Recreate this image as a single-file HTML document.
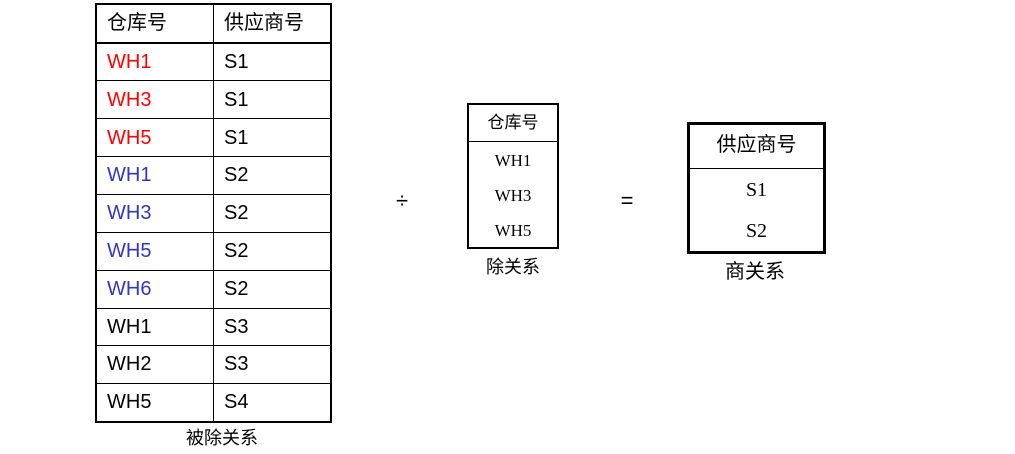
<!DOCTYPE html>
<html><head><meta charset="utf-8"><style>
body{margin:0;width:1015px;height:454px;background:#fff;position:relative;overflow:hidden;font-family:"Liberation Sans","Noto Sans CJK SC",sans-serif;}
.a{position:absolute;}
.h{position:absolute;height:1px;background:#000;}
.v{position:absolute;width:1px;background:#000;}
.t{position:absolute;font-size:20px;line-height:38px;height:38px;}
.c{position:absolute;text-align:center;}
.r{color:#f00}.b{color:#3333cc}
</style></head><body>
<div class="a" style="left:95px;top:3px;width:233px;height:416px;border:2px solid #000;"></div>
<div class="v" style="left:213px;top:4px;height:417px;"></div>
<div class="h" style="left:96px;top:42px;width:234px;height:2px;"></div>
<div class="h" style="left:96px;top:80px;width:234px;"></div>
<div class="h" style="left:96px;top:118px;width:234px;"></div>
<div class="h" style="left:96px;top:156px;width:234px;"></div>
<div class="h" style="left:96px;top:194px;width:234px;"></div>
<div class="h" style="left:96px;top:232px;width:234px;"></div>
<div class="h" style="left:96px;top:270px;width:234px;"></div>
<div class="h" style="left:96px;top:308px;width:234px;"></div>
<div class="h" style="left:96px;top:345px;width:234px;"></div>
<div class="h" style="left:96px;top:383px;width:234px;"></div>

<div class="t" style="left:107px;top:4px;">仓库号</div><div class="t" style="left:224px;top:4px;">供应商号</div>
<div class="t r" style="left:107px;top:43px;">WH1</div><div class="t" style="left:224px;top:43px;">S1</div>
<div class="t r" style="left:107px;top:81px;">WH3</div><div class="t" style="left:224px;top:81px;">S1</div>
<div class="t r" style="left:107px;top:119px;">WH5</div><div class="t" style="left:224px;top:119px;">S1</div>
<div class="t b" style="left:107px;top:156px;">WH1</div><div class="t" style="left:224px;top:156px;">S2</div>
<div class="t b" style="left:107px;top:194px;">WH3</div><div class="t" style="left:224px;top:194px;">S2</div>
<div class="t b" style="left:107px;top:232px;">WH5</div><div class="t" style="left:224px;top:232px;">S2</div>
<div class="t b" style="left:107px;top:270px;">WH6</div><div class="t" style="left:224px;top:270px;">S2</div>
<div class="t" style="left:107px;top:308px;">WH1</div><div class="t" style="left:224px;top:308px;">S3</div>
<div class="t" style="left:107px;top:345px;">WH2</div><div class="t" style="left:224px;top:345px;">S3</div>
<div class="t" style="left:107px;top:383px;">WH5</div><div class="t" style="left:224px;top:383px;">S4</div>
<div class="c" style="left:162px;top:426px;width:120px;font-size:18px;line-height:24px;">被除关系</div>

<div class="c" style="left:392px;top:186px;width:20px;font-size:22px;line-height:30px;">÷</div>
<div class="c" style="left:617px;top:186px;width:20px;font-size:22px;line-height:30px;">=</div>

<div class="a" style="left:467px;top:103px;width:88px;height:142px;border:2px solid #000;"></div>
<div class="h" style="left:469px;top:141px;width:88px;"></div>
<div class="c" style="left:469px;top:110px;width:88px;font-size:17px;line-height:26px;">仓库号</div>
<div class="c" style="left:469px;top:148px;width:88px;font-size:17px;line-height:26px;font-family:'Liberation Serif',serif;">WH1</div>
<div class="c" style="left:469px;top:183px;width:88px;font-size:17px;line-height:26px;font-family:'Liberation Serif',serif;">WH3</div>
<div class="c" style="left:469px;top:218px;width:88px;font-size:17px;line-height:26px;font-family:'Liberation Serif',serif;">WH5</div>
<div class="c" style="left:463px;top:255px;width:100px;font-size:18px;line-height:24px;">除关系</div>

<div class="a" style="left:687px;top:122px;width:133px;height:126px;border:3px solid #000;"></div>
<div class="h" style="left:690px;top:168px;width:133px;"></div>
<div class="c" style="left:690px;top:131px;width:133px;font-size:20px;line-height:28px;">供应商号</div>
<div class="c" style="left:690px;top:176px;width:133px;font-size:20px;line-height:28px;font-family:'Liberation Serif',serif;">S1</div>
<div class="c" style="left:690px;top:217px;width:133px;font-size:20px;line-height:28px;font-family:'Liberation Serif',serif;">S2</div>
<div class="c" style="left:695px;top:259px;width:120px;font-size:20px;line-height:26px;">商关系</div>
</body></html>
